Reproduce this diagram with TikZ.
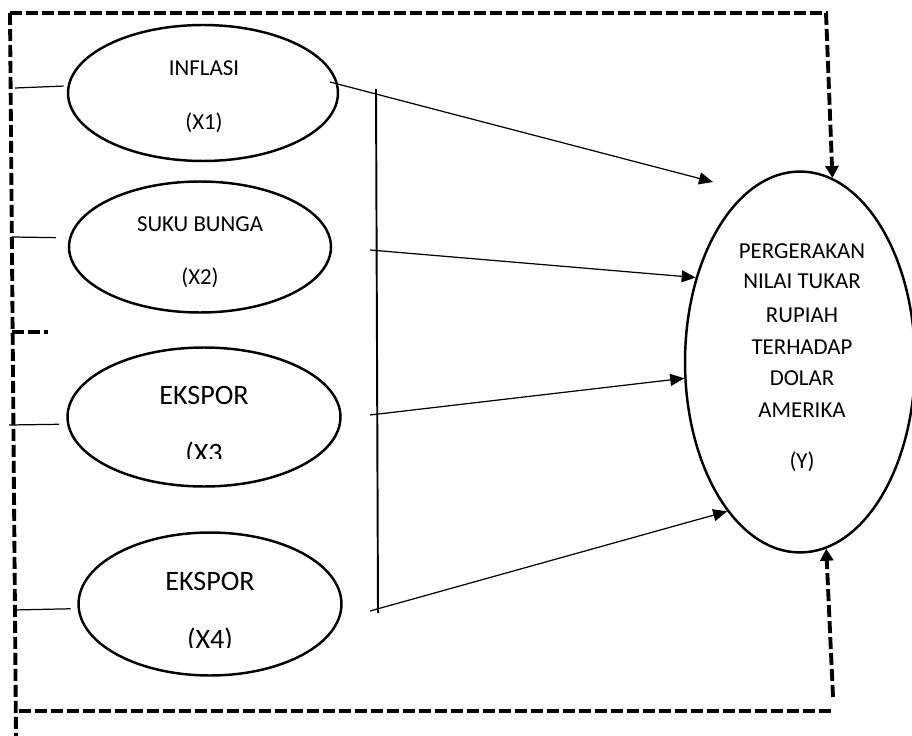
\documentclass[tikz,border=0pt]{standalone}
\usepackage{fontspec}
\setmainfont{Carlito}
\usetikzlibrary{arrows.meta}
\usetikzlibrary{shapes.geometric}

\begin{document}
\begin{tikzpicture}[x=0.02cm,y=-0.02cm,
    var/.style={draw,ellipse,line width=1.4pt,inner sep=0pt},
    small/.style={font=\fontsize{13}{16}\selectfont,inner sep=0pt,anchor=base},
    big/.style={font=\fontsize{16}{19}\selectfont,inner sep=0pt,anchor=base},
    link/.style={line width=0.7pt,-{Triangle[length=0.28cm,width=0.24cm]}},
    feedback/.style={line width=2.2pt,dash pattern=on 0.24cm off 0.08cm},
    back/.style={feedback,-{Triangle[length=0.24cm,width=0.26cm]}}]
    \useasboundingbox (0,0) rectangle (912,736);
    % variabel bebas
    \node[var,minimum width=5.4cm,minimum height=2.72cm] (x1) at (203,93) {};
    \node[var,minimum width=5.24cm,minimum height=2.62cm] (x2) at (200,247) {};
    \node[var,minimum width=5.46cm,minimum height=2.78cm] (x3) at (204,417) {};
    \node[var,minimum width=5.26cm,minimum height=2.86cm] (x4) at (210,604) {};
    \node[small] (x1a) at (204,76) {INFLASI};
    \node[small] (x1b) at (204,130) {(X1)};
    \node[small] (x2a) at (200,232) {SUKU BUNGA};
    \node[small] (x2b) at (200,285) {(X2)};
    \node[big] (x3a) at (204,404) {EKSPOR};
    \node[big] (x4a) at (210,590) {EKSPOR};
    \begin{scope}
        \clip (150,430) rectangle (270,458);
        \node[big,anchor=base west] (x3b) at (185,462) {(X3};
    \end{scope}
    \begin{scope}
        \clip (150,615) rectangle (270,647);
        \node[big] (x4b) at (210,648) {(X4)};
    \end{scope}
    % variabel terikat
    \node[var,minimum width=4.6cm,minimum height=7.62cm] (y) at (800,362) {};
    \foreach \t/\yy [count=\i] in {PERGERAKAN/259,NILAI TUKAR/289,RUPIAH/322,TERHADAP/354,DOLAR/385,AMERIKA/417,{(Y)}/468}
        \node[small] (yt\i) at (802,\yy) {\t};
    % garis simultan
    \coordinate (vtop) at (376,89);
    \coordinate (vbot) at (378,613);
    \draw[line width=1.1pt] (vtop) -- (vbot);
    \coordinate (s1) at (330,82);
    \coordinate (s2) at (370,250);
    \coordinate (s3) at (370,415);
    \coordinate (s4) at (370,611);
    \coordinate (t1) at (713,182);
    \draw[link] (s1) -- (t1);
    \draw[link] (s2) -- (y.141);
    \draw[link] (s3) -- (y.188);
    \draw[link] (s4) -- (y.244);
    % garis putus-putus
    \coordinate (ftr) at (826,13);
    \coordinate (ftl) at (10,13);
    \coordinate (fbl) at (16,736);
    \coordinate (fb1) at (19,711);
    \coordinate (fb2) at (832,711);
    \coordinate (fb3) at (833,697);
    \coordinate (d1) at (12,332);
    \coordinate (d2) at (48,332);
    \draw[back] (ftl) -- (ftr) -- (y.80);
    \draw[feedback] (ftl) -- (fbl);
    \draw[feedback] (d1) -- (d2);
    \draw[feedback] (fb1) -- (fb2);
    \draw[back] (fb3) -- (y.-82);
    % garis kiri
    \coordinate (l1) at (15,88);
    \coordinate (l2) at (12,237);
    \coordinate (l3) at (9,425);
    \coordinate (l4) at (13,610);
    \draw[line width=0.7pt,shorten >=0.08cm] (l1) -- (x1.177);
    \draw[line width=0.7pt,shorten >=0.26cm] (l2) -- (x2.176);
    \draw[line width=0.7pt,shorten >=0.16cm] (l3) -- (x3.183);
    \draw[line width=0.7pt,shorten >=0.14cm] (l4) -- (x4.182);
\end{tikzpicture}
\end{document}
